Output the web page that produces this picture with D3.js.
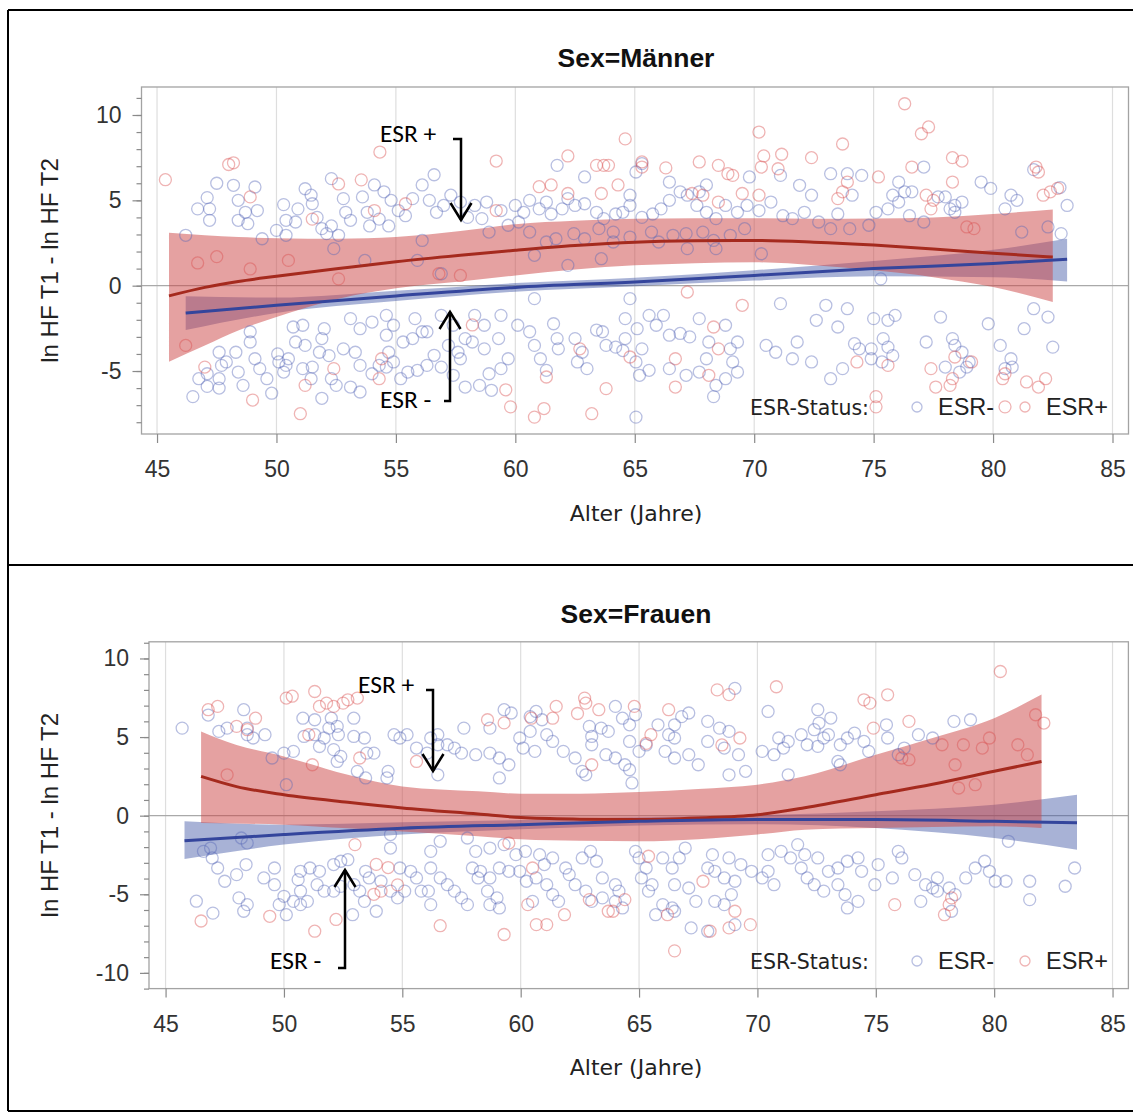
<!DOCTYPE html>
<html>
<head>
<meta charset="utf-8">
<script src="https://cdn.jsdelivr.net/npm/d3@7"></script>
<style>
  body { margin: 0; background: #fff; }
  svg { display: block; }
</style>
</head>
<body>
<svg id="chart" width="1133" height="1113"></svg>
<script>
// ---------------------------------------------------------------
// Data: age (years) vs. ln HF T1 - ln HF T2, by ESR status and sex
// ---------------------------------------------------------------
const xTickValues = [45, 50, 55, 60, 65, 70, 75, 80, 85];
const legendLabels = ["ESR-", "ESR+"];
const panelTitles = ["Sex=Männer", "Sex=Frauen"];

// Men: fitted curve with confidence band, ESR- group
const menNegAge = [46.2, 50, 55, 60, 65, 70, 75, 80, 83.1];
const menNegFit = [-1.6, -1.15, -0.6, -0.1, 0.22, 0.6, 1.0, 1.3, 1.55];
const menNegLo  = [-2.6, -1.6, -0.9, -0.35, -0.03, 0.3, 0.55, 0.5, 0.25];
const menNegHi  = [-0.62, -0.7, -0.3, 0.15, 0.47, 0.9, 1.45, 2.1, 2.75];

// Men: fitted curve with confidence band, ESR+ group
const menPosAge = [45.5, 47, 48.4, 50, 52.6, 55, 57.7, 60, 62.5, 65, 67.5, 70, 72.5, 75, 77.5, 80, 82.5];
const menPosFit = [-0.6, -0.1, 0.25, 0.55, 1.0, 1.4, 1.78, 2.07, 2.35, 2.55, 2.63, 2.65, 2.55, 2.38, 2.15, 1.9, 1.68];
const menPosLo  = [-4.45, -3.5, -2.62, -1.84, -0.76, -0.15, 0.25, 0.6, 0.95, 1.19, 1.32, 1.37, 1.2, 0.9, 0.5, -0.08, -0.96];
const menPosHi  = [3.1, 2.95, 2.85, 2.78, 2.75, 2.85, 3.2, 3.6, 3.8, 3.92, 3.95, 3.95, 3.92, 3.93, 4.0, 4.2, 4.47];

// Women: fitted curve with confidence band, ESR- group
const womenNegAge = [45.8, 50, 55, 60, 65, 70, 75, 80, 83.5];
const womenNegFit = [-1.6, -1.2, -0.8, -0.57, -0.36, -0.25, -0.25, -0.36, -0.45];
const womenNegLo  = [-2.75, -1.84, -1.2, -0.87, -0.62, -0.55, -0.78, -1.42, -2.16];
const womenNegHi  = [-0.36, -0.57, -0.42, -0.27, -0.1, 0.03, 0.28, 0.7, 1.33];

// Women: fitted curve with confidence band, ESR+ group
const womenPosAge = [46.5, 48, 50, 52.7, 55, 58.2, 60, 62.5, 65, 67.5, 70, 72, 75, 77.4, 80, 82];
const womenPosFit = [2.5, 1.85, 1.33, 0.85, 0.49, 0.1, -0.12, -0.22, -0.25, -0.15, 0.06, 0.5, 1.33, 2.0, 2.82, 3.45];
const womenPosLo  = [-0.47, -0.5, -0.57, -0.8, -1.0, -1.31, -1.5, -1.6, -1.63, -1.5, -1.2, -0.89, -0.78, -0.72, -0.68, -0.78];
const womenPosHi  = [5.36, 4.5, 3.77, 2.6, 1.86, 1.55, 1.4, 1.4, 1.5, 1.7, 1.97, 2.5, 3.88, 4.94, 6.2, 7.7];

// Observations [age, difference]: men, ESR-
const menNeg = [
  [47.5,6.0],[47.1,5.16],[46.7,4.5],[47.2,4.5],[47.2,3.83],[48.2,5.88],[49.1,5.78],[48.4,5.0],[48.7,4.3],[49.2,4.4],
  [48.4,3.83],[48.8,3.63],[50.3,4.75],[50.4,3.83],[50.0,3.24],[50.9,4.5],[50.8,3.73],[51.2,5.68],[51.45,5.3],[51.5,4.8],
  [51.7,4.0],[51.9,3.34],[52.1,3.05],[52.3,6.27],[52.8,5.1],[52.9,4.3],[53.1,3.83],[52.3,3.5],[52.6,2.95],[53.6,5.2],
  [53.8,4.3],[53.9,3.5],[54.1,5.9],[54.5,5.5],[54.8,5.0],[55.1,4.4],[54.3,3.9],[54.7,3.5],[55.4,4.1],[55.7,5.1],
  [56.1,5.9],[56.6,6.5],[56.4,5.0],[56.7,4.3],[57.0,4.7],[57.3,5.3],[57.7,4.9],[58.0,4.0],[56.1,2.65],[46.2,2.95],
  [49.4,2.75],[50.4,2.95],[52.4,2.17],[53.7,1.48],[55.9,1.48],[56.9,0.7],
  [46.5,-6.5],[46.75,-5.45],[47.1,-5.16],[47.6,-5.45],[47.6,-6.0],[47.1,-5.9],[47.9,-4.47],[48.3,-3.9],[48.4,-5.06],[48.6,-5.84],
  [48.9,-2.7],[48.9,-3.3],[49.1,-4.28],[49.3,-4.86],[49.6,-5.45],[49.8,-6.3],[50.05,-4.0],[50.1,-4.47],[50.3,-5.06],[50.4,-4.67],
  [50.5,-4.28],[50.7,-2.42],[51.1,-2.32],[50.8,-3.3],[51.2,-3.5],[51.1,-4.86],[51.5,-4.77],[51.45,-5.45],[51.9,-3.1],[52.0,-2.52],
  [51.8,-3.9],[52.2,-4.1],[52.3,-5.45],[52.5,-5.84],[51.9,-6.6],[53.1,-1.93],[53.5,-2.52],[54.0,-2.13],[52.8,-3.7],[53.3,-3.9],
  [53.5,-4.67],[54.0,-5.16],[54.3,-4.67],[53.1,-5.94],[53.5,-6.23],[54.6,-1.74],[54.9,-2.32],[54.6,-2.9],[54.7,-3.9],[54.9,-4.47],
  [54.6,-4.77],[55.3,-3.3],[55.7,-3.1],[56.1,-2.7],[55.2,-5.45],[55.5,-5.06],[55.9,-4.96],[56.3,-4.67],[56.6,-4.08],[55.8,-1.93],
  [56.3,-2.7],[56.9,-1.74],[57.4,-2.32],[57.2,-3.5],[57.6,-3.9],[57.9,-3.1],[56.9,-4.77],[57.4,-5.25],[57.9,-5.94],[57.7,-4.28],
  [47.6,-3.9],[47.7,-4.67],
  [61.75,7.05],[62.9,6.37],[65.3,7.15],[65.05,6.66],[66.45,6.07],[67.7,5.5],[68.0,5.9],[69.8,6.37],[71.1,6.46],[58.3,4.7],
  [58.8,4.9],[58.6,3.93],[59.4,4.4],[60.0,4.7],[60.35,4.3],[60.14,3.73],[60.6,5.0],[61.0,4.5],[61.3,4.9],[61.5,4.2],
  [61.96,4.5],[62.2,5.1],[62.5,4.7],[62.9,4.8],[63.4,4.3],[63.7,3.93],[64.2,4.2],[64.5,4.3],[64.8,5.3],[64.8,4.7],
  [65.3,4.0],[65.75,4.2],[66.1,4.5],[66.45,5.0],[66.9,5.5],[67.2,5.3],[67.6,4.7],[68.0,4.3],[68.4,3.93],[68.8,4.7],
  [69.3,4.3],[69.7,4.7],[70.2,4.4],[70.7,4.9],[71.2,4.1],[71.6,3.93],[58.9,3.14],[59.7,3.54],[60.6,3.14],[61.3,2.56],
  [61.7,2.75],[62.45,3.05],[62.9,2.75],[63.5,3.34],[64.1,3.14],[64.8,2.85],[65.7,3.14],[66.0,2.56],[66.6,2.95],[67.15,3.05],
  [67.85,3.14],[68.3,2.65],[69.0,2.95],[69.6,3.34],[70.3,1.87],[60.8,1.78],[62.2,1.19],[63.6,1.58],[64.1,2.56],[67.2,2.17],
  [68.4,2.17],
  [58.3,-1.74],[58.7,-2.32],[59.4,-1.74],[60.8,-0.76],[58.2,-3.3],[58.7,-3.7],[59.3,-3.1],[59.7,-4.28],[58.9,-5.16],[59.4,-4.86],
  [58.5,-5.84],[59.0,-6.13],[60.1,-2.32],[60.6,-2.7],[60.8,-3.5],[61.05,-4.28],[61.3,-4.96],[61.6,-2.23],[61.75,-3.1],[61.8,-3.7],
  [62.5,-3.1],[62.8,-3.9],[62.6,-4.47],[63.0,-4.86],[63.4,-2.6],[63.65,-2.7],[63.8,-3.5],[64.2,-3.6],[64.5,-3.8],[64.6,-3.1],
  [64.8,-0.76],[64.6,-1.93],[65.1,-2.52],[65.6,-1.74],[65.9,-2.32],[66.2,-1.74],[65.3,-3.7],[65.05,-4.47],[65.6,-4.96],[65.2,-5.25],
  [66.45,-2.9],[66.9,-2.8],[67.3,-3.0],[67.7,-1.93],[68.1,-3.3],[68.8,-2.32],[69.3,-3.3],[69.0,-3.7],[66.45,-4.86],[67.15,-5.25],
  [67.7,-5.06],[68.0,-4.28],[68.4,-5.84],[68.8,-5.45],[69.3,-5.06],[69.1,-4.47],[68.3,-6.5],[65.05,-7.7],[70.5,-3.5],[70.9,-3.9],
  [71.6,-4.28],[71.1,-1.05],
  [73.2,6.56],[73.9,6.56],[74.5,6.46],[71.9,5.88],[72.4,5.3],[74.1,5.3],[76.05,6.07],[76.3,5.5],[76.6,5.5],[75.8,5.3],
  [76.05,4.9],[77.1,6.95],[78.2,4.5],[78.4,4.7],[78.7,4.9],[78.4,4.3],[78.0,5.2],[77.7,5.2],[79.5,6.07],[79.9,5.7],
  [80.75,5.3],[81.0,5.0],[80.5,4.5],[83.1,4.7],[82.85,3.05],[72.1,4.3],[72.7,3.73],[73.5,4.2],[75.1,4.3],[75.6,4.5],
  [76.5,4.1],[77.1,3.73],[73.2,3.34],[74.0,3.34],[74.8,3.54],[81.2,3.14],[82.3,3.44],[75.3,0.4],[81.7,6.8],[82.8,5.75],
  [73.0,-1.15],[73.9,-1.35],[72.6,-2.03],[73.5,-2.42],[71.8,-3.3],[72.4,-4.47],[73.2,-5.45],[73.7,-4.86],[74.2,-3.4],[74.4,-3.7],
  [74.9,-3.7],[75.0,-1.93],[75.6,-2.03],[75.9,-1.74],[75.4,-3.1],[75.6,-3.6],[75.8,-4.1],[74.9,-4.28],[75.35,-4.47],[77.2,-3.3],
  [77.8,-1.84],[78.3,-3.1],[78.4,-3.5],[78.7,-3.9],[79.0,-4.47],[78.0,-4.77],[78.6,-5.06],[78.9,-4.77],[79.8,-2.23],[80.3,-3.5],
  [80.5,-4.86],[80.8,-4.77],[80.75,-4.28],[81.3,-2.52],[81.7,-1.35],[82.3,-1.84],[82.5,-3.6]
];

// Observations [age, difference]: men, ESR+
const menPos = [
  [45.35,6.21],[48.0,7.1],[48.2,7.2],[54.33,7.83],[48.9,5.2],[52.6,5.96],[53.55,6.2],[54.1,4.4],[55.4,4.8],[51.5,3.9],
  [46.7,1.33],[47.5,1.7],[48.9,0.98],[50.5,1.48],[52.6,0.4],[46.2,-3.5],[47.0,-4.77],[49.0,-6.7],[51.0,-7.5],[51.2,-5.84],
  [52.4,-4.86],[54.3,-5.45],[54.4,-4.28],[56.8,0.7],[57.7,0.6],[58.2,-2.3],
  [59.2,7.3],[62.2,7.6],[64.6,8.6],[63.4,7.05],[63.7,7.05],[63.9,7.05],[61.0,5.8],[61.5,5.9],[62.2,5.4],[63.6,5.4],
  [64.3,5.9],[65.3,7.25],[65.3,6.95],[66.3,6.9],[67.7,7.25],[68.5,7.05],[68.9,6.56],[69.1,6.46],[70.2,9.0],[70.4,7.6],
  [71.15,7.7],[70.3,6.95],[71.0,6.85],[67.4,5.4],[67.85,5.3],[68.5,4.9],[69.5,5.4],[70.2,5.3],[59.2,4.4],[67.2,-0.37],
  [69.5,-1.15],[68.3,-2.42],[62.7,-3.7],[64.8,-4.18],[66.7,-4.28],[68.5,-3.7],[61.3,-5.35],[68.1,-5.25],[66.7,-5.94],[63.8,-6.03],
  [59.8,-7.1],[59.6,-6.1],[60.8,-7.7],[61.2,-7.2],[63.2,-7.5],
  [76.3,10.66],[77.0,8.9],[77.3,9.3],[73.7,8.3],[72.4,7.5],[78.3,7.5],[78.7,7.3],[76.6,6.95],[75.2,6.37],[81.8,6.95],
  [81.9,6.66],[78.3,6.07],[73.5,5.1],[73.7,5.5],[73.9,6.07],[77.2,5.3],[77.5,5.0],[77.4,4.5],[82.1,5.3],[82.4,5.5],
  [82.7,5.7],[78.9,3.44],[79.2,3.34],[74.3,-4.47],[75.6,-4.67],[75.1,-6.5],[75.1,-7.1],[77.4,-4.86],[77.6,-5.94],[78.2,-5.84],
  [78.3,-5.45],[79.1,-4.47],[78.4,-4.18],[80.4,-5.45],[80.5,-5.16],[81.4,-5.64],[81.9,-5.94],[82.2,-5.45],[80.5,-7.1]
];

// Observations [age, difference]: women, ESR-
const womenNeg = [
  [45.7,5.57],[46.8,6.4],[47.25,5.36],[47.6,5.57],[48.3,6.74],[48.45,5.57],[49.2,5.15],[48.45,5.15],[48.7,4.94],[50.0,3.98],
  [50.4,4.09],[49.5,3.67],[50.8,6.2],[51.3,6.1],[50.85,5.04],[51.3,5.15],[51.7,4.94],[51.5,4.4],[52.0,6.2],[51.9,5.57],
  [52.25,5.68],[52.3,5.15],[52.1,4.2],[52.4,3.77],[52.25,3.45],[52.95,6.2],[52.95,5.04],[53.4,4.94],[53.5,3.98],[53.1,2.82],
  [53.45,2.4],[54.4,2.82],[54.35,2.4],[54.65,5.15],[54.9,4.94],[55.2,5.15],[55.6,4.3],[56.05,3.98],[56.5,4.51],[56.9,4.51],
  [57.2,4.3],[57.5,3.98],[57.6,5.57],[56.5,5.15],[56.2,4.94],[56.5,2.6],[53.8,3.98],[50.1,1.97],
  [46.3,-5.44],[47.0,-6.2],[46.6,-2.27],[46.97,-2.69],[47.2,-3.33],[47.5,-4.17],[48.0,-3.75],[48.4,-3.11],[48.1,-5.23],[48.45,-5.66],
  [48.3,-6.08],[49.15,-3.96],[49.6,-3.33],[49.6,-4.39],[50.0,-5.13],[49.8,-5.66],[50.1,-6.3],[50.6,-4.07],[50.7,-3.54],[50.7,-4.8],
  [50.4,-5.45],[50.7,-5.66],[50.99,-5.45],[51.1,-3.33],[51.5,-3.54],[51.4,-4.39],[51.7,-4.8],[52.1,-4.8],[52.4,-4.5],[52.1,-3.11],
  [52.4,-2.9],[52.7,-2.8],[52.96,-4.39],[53.2,-4.8],[53.4,-5.45],[53.45,-3.54],[53.6,-3.96],[54.1,-4.17],[54.5,-4.8],[54.8,-5.23],
  [55.1,-4.8],[54.9,-3.33],[55.35,-3.54],[54.5,-2.06],[54.5,-1.2],[55.6,-3.96],[55.8,-4.8],[56.1,-4.8],[56.2,-5.66],[56.2,-3.33],
  [56.6,-3.96],[56.9,-4.39],[57.2,-4.8],[57.5,-5.23],[57.75,-5.66],[56.6,-1.63],[57.75,-1.42],[56.2,-2.27],[57.96,-3.33],[58.2,-3.96],
  [53.9,-6.08],[52.9,-6.3],[48.2,-1.42],[48.45,-1.74],[46.9,-2.06],
  [59.3,6.74],[59.6,6.53],[60.4,6.3],[60.65,6.63],[60.9,6.1],[58.7,5.57],[58.1,3.88],[58.7,3.98],[59.1,3.67],[59.5,3.24],
  [59.1,2.4],[59.96,4.94],[60.1,4.3],[60.6,4.09],[60.4,5.36],[61.1,5.15],[61.35,4.72],[61.8,4.09],[62.3,3.67],[62.6,2.82],
  [62.75,2.6],[62.9,5.68],[63.0,5.04],[63.0,4.51],[63.4,5.57],[63.7,5.36],[64.0,6.95],[64.3,6.2],[64.6,5.78],[64.85,6.42],
  [63.6,3.88],[64.0,3.67],[64.4,3.24],[64.6,4.72],[65.0,4.09],[65.3,4.5],[64.7,2.08],[64.6,2.92],[65.8,5.78],[66.25,5.15],
  [66.5,5.78],[66.8,6.3],[67.1,6.53],[66.5,4.94],[66.1,4.09],[66.5,3.67],[67.1,3.88],[67.5,3.24],[67.9,6.0],[68.4,5.57],
  [68.8,5.36],[69.05,8.1],[67.9,4.72],[68.6,4.3],[69.2,3.88],[68.8,2.6],[69.5,2.82],[70.2,4.09],[70.7,3.88],[71.1,4.3],
  [70.9,4.94],[71.3,4.72],[70.45,6.63],[71.3,2.6],
  [58.1,-2.27],[58.7,-2.06],[59.3,-1.84],[59.8,-2.48],[58.3,-3.54],[58.7,-3.96],[59.1,-3.33],[59.5,-3.54],[58.6,-4.8],[59.0,-5.23],
  [58.7,-5.66],[59.1,-5.87],[59.96,-3.54],[60.24,-4.17],[60.65,-3.96],[60.2,-2.27],[60.8,-2.48],[61.0,-3.11],[61.35,-2.69],[61.1,-4.39],
  [61.35,-5.02],[61.6,-5.45],[61.9,-3.33],[62.05,-3.75],[62.3,-4.39],[62.6,-2.69],[62.95,-2.27],[63.2,-2.9],[62.75,-4.8],[63.0,-5.45],
  [63.45,-3.96],[64.0,-4.39],[64.15,-4.8],[63.45,-5.23],[64.0,-5.45],[64.3,-5.87],[64.85,-2.27],[65.0,-2.69],[65.3,-3.33],[65.1,-3.96],
  [65.55,-4.39],[65.4,-4.8],[66.0,-2.69],[66.4,-3.33],[66.7,-2.69],[66.95,-2.06],[66.5,-4.39],[67.1,-4.6],[67.4,-5.45],[66.0,-5.66],
  [66.4,-5.87],[67.9,-3.33],[68.2,-3.54],[68.6,-3.96],[69.05,-4.17],[68.1,-2.48],[68.8,-2.69],[69.3,-3.11],[68.2,-5.45],[68.6,-5.66],
  [68.9,-5.02],[69.75,-3.54],[70.2,-3.96],[70.45,-3.54],[70.7,-4.39],[70.45,-2.48],[71.0,-2.27],[71.4,-2.69],[67.2,-7.14],[67.9,-7.35],
  [65.7,-6.3],[66.5,-6.08],[60.5,-5.45],[69.05,-6.93],
  [72.55,6.74],[73.1,6.21],[72.6,5.89],[72.4,5.47],[72.8,4.94],[73.0,5.15],[72.55,4.41],[73.5,4.51],[73.8,4.94],[74.1,5.25],
  [74.5,4.72],[74.7,4.09],[75.45,5.78],[75.5,4.94],[73.4,3.45],[73.5,3.24],[76.8,5.15],[77.4,4.94],[78.3,6.0],[79.0,6.1],
  [75.95,3.88],[76.2,4.3],[71.85,5.15],[72.1,4.51],
  [71.7,-1.84],[72.0,-2.48],[72.55,-2.69],[73.0,-3.54],[71.85,-3.33],[72.1,-3.96],[72.4,-4.39],[72.8,-4.8],[73.4,-3.33],[73.8,-2.9],
  [74.25,-2.69],[74.4,-3.54],[73.4,-4.39],[73.7,-5.02],[73.8,-5.87],[74.25,-5.45],[74.96,-4.39],[75.1,-3.11],[75.7,-3.96],[75.95,-2.27],
  [76.1,-2.69],[76.65,-3.75],[77.1,-4.39],[77.4,-4.6],[77.6,-3.96],[76.9,-5.45],[77.6,-4.8],[78.1,-4.6],[78.35,-5.02],[78.8,-3.96],
  [79.2,-3.33],[79.6,-2.9],[79.8,-3.54],[80.05,-4.17],[80.5,-4.17],[80.6,-1.63],[81.5,-4.17],[81.5,-5.34],[83.0,-4.49],[83.4,-3.33],
  [78.2,-6.08]
];

// Observations [age, difference]: women, ESR+
const womenPos = [
  [46.8,6.74],[47.2,6.95],[50.1,7.48],[50.35,7.6],[51.3,7.9],[51.5,6.95],[51.8,7.16],[52.1,6.95],[52.5,7.16],[52.7,7.37],
  [53.1,7.48],[48.0,5.68],[48.8,6.2],[48.45,5.47],[51.05,5.15],[53.2,3.67],[51.2,3.24],[55.6,3.45],[47.6,2.6],[46.5,-6.7],
  [49.4,-6.4],[51.3,-7.35],[52.2,-6.6],[53.0,-1.84],[53.9,-3.1],[54.4,-3.3],[53.8,-5.0],[54.1,-4.8],[54.8,-4.4],[56.6,-7.0],
  [58.6,6.1],[59.3,5.9],[60.45,6.2],[61.35,6.2],[61.5,6.95],[62.4,6.5],[62.7,7.48],[62.75,7.16],[63.3,6.74],[64.8,6.95],
  [66.25,6.74],[68.3,8.0],[68.8,7.7],[70.8,8.2],[63.0,3.24],[65.3,4.6],[65.5,5.15],[68.5,4.5],[69.26,4.94],[59.5,-1.74],
  [60.5,-3.33],[59.3,-7.56],[60.66,-6.93],[61.1,-6.93],[60.3,-5.66],[61.85,-6.3],[62.9,-5.34],[63.7,-6.08],[63.9,-6.08],[65.4,-2.58],
  [66.2,-6.3],[66.5,-8.6],[68.0,-7.35],[68.8,-7.14],[69.7,-6.93],[69.05,-6.08],[67.7,-4.17],[64.4,-5.34],
  [74.5,7.37],[74.75,7.16],[75.5,7.69],[76.4,6.0],[74.9,5.57],[80.26,9.17],[81.75,6.42],[82.1,5.89],[77.8,4.51],[78.7,4.51],
  [79.5,4.3],[79.8,4.94],[78.35,3.24],[78.5,1.76],[79.2,1.97],[81.0,4.51],[81.4,3.88],[76.1,3.67],[76.4,3.56],[75.8,-5.66],
  [78.1,-5.66],[78.2,-5.23],[77.9,-6.3]
];

// ---------------------------------------------------------------
// Layout of the two stacked panels
// ---------------------------------------------------------------
const panels = [
  {
    title: panelTitles[0],
    left: 141.5, right: 1128.5, top: 87, bottom: 434,
    xDomain: [44.35, 85.67], yDomain: [-8.69, 11.64],
    yMajor: [-5, 0, 5, 10], yMinor: d3.range(-8, 12),
    titleY: 67, axisTitleY: 521, yTitleX: 58,
    legendY: 415,
    neg: menNeg, pos: menPos,
    negBand: { age: menNegAge, fit: menNegFit, lo: menNegLo, hi: menNegHi },
    posBand: { age: menPosAge, fit: menPosFit, lo: menPosLo, hi: menPosHi },
    notePlus:  { tx: 380, ty: 142, hx0: 453, hy: 139, ax: 461, tip: 220, dir: 1 },
    noteMinus: { tx: 380, ty: 408, hx0: 444, hy: 401, ax: 450, tip: 312, dir: -1 }
  },
  {
    title: panelTitles[1],
    left: 149, right: 1128.4, top: 641.8, bottom: 988.6,
    xDomain: [44.30, 85.67], yDomain: [-11.0, 11.06],
    yMajor: [-10, -5, 0, 5, 10], yMinor: d3.range(-11, 12),
    titleY: 623, axisTitleY: 1075, yTitleX: 58,
    legendY: 969,
    neg: womenNeg, pos: womenPos,
    negBand: { age: womenNegAge, fit: womenNegFit, lo: womenNegLo, hi: womenNegHi },
    posBand: { age: womenPosAge, fit: womenPosFit, lo: womenPosLo, hi: womenPosHi },
    notePlus:  { tx: 358, ty: 693, hx0: 426, hy: 690, ax: 433, tip: 771, dir: 1 },
    noteMinus: { tx: 270, ty: 969, hx0: 338, hy: 968, ax: 345, tip: 870, dir: -1 }
  }
];

const COLORS = {
  negBand: "#3f55a5", posBand: "#cc4444",
  negLine: "#34459c", posLine: "#a52a1e",
  negMark: "#5566b8", posMark: "#d84c4c"
};
const SANS = "'Liberation Sans', Arial, sans-serif";

const svg = d3.select("#chart");

// Outer frame around the two panels
const frame = svg.append("g").attr("stroke", "#000").attr("stroke-width", 2).attr("fill", "none");
frame.append("line").attr("x1", 8).attr("x2", 1133).attr("y1", 10).attr("y2", 10);
frame.append("line").attr("x1", 8).attr("x2", 1133).attr("y1", 565).attr("y2", 565);
frame.append("line").attr("x1", 8).attr("x2", 1133).attr("y1", 1111).attr("y2", 1111);
frame.append("line").attr("x1", 8).attr("x2", 8).attr("y1", 10).attr("y2", 1111);

function bandRows(b) {
  return b.age.map((a, i) => ({ age: a, fit: b.fit[i], lo: b.lo[i], hi: b.hi[i] }));
}

function drawPanel(p, idx) {
  const x = d3.scaleLinear().domain(p.xDomain).range([p.left, p.right]);
  const y = d3.scaleLinear().domain(p.yDomain).range([p.bottom, p.top]);
  const g = svg.append("g");

  const clipId = "clip" + idx;
  g.append("clipPath").attr("id", clipId).append("rect")
    .attr("x", p.left).attr("y", p.top)
    .attr("width", p.right - p.left).attr("height", p.bottom - p.top);

  const plot = g.append("g").attr("clip-path", `url(#${clipId})`);

  // vertical grid
  plot.selectAll("line.grid").data(xTickValues).join("line")
    .attr("x1", d => x(d)).attr("x2", d => x(d))
    .attr("y1", p.top).attr("y2", p.bottom)
    .attr("stroke", "#dedede").attr("stroke-width", 1.2);

  // reference line at zero
  plot.append("line")
    .attr("x1", p.left).attr("x2", p.right)
    .attr("y1", y(0)).attr("y2", y(0))
    .attr("stroke", "#a9a9a9").attr("stroke-width", 1.2);

  const area = d3.area().curve(d3.curveMonotoneX)
    .x(d => x(d.age)).y0(d => y(d.lo)).y1(d => y(d.hi));
  const line = d3.line().curve(d3.curveMonotoneX)
    .x(d => x(d.age)).y(d => y(d.fit));

  const negRows = bandRows(p.negBand);
  const posRows = bandRows(p.posBand);

  // confidence bands
  plot.append("path").datum(negRows).attr("d", area)
    .attr("fill", COLORS.negBand).attr("fill-opacity", 0.45);
  plot.append("path").datum(posRows).attr("d", area)
    .attr("fill", COLORS.posBand).attr("fill-opacity", 0.5);

  // observations
  plot.append("g").selectAll("circle").data(p.neg).join("circle")
    .attr("cx", d => x(d[0])).attr("cy", d => y(d[1])).attr("r", 6)
    .attr("fill", "none").attr("stroke", COLORS.negMark)
    .attr("stroke-opacity", 0.42).attr("stroke-width", 1.3);
  plot.append("g").selectAll("circle").data(p.pos).join("circle")
    .attr("cx", d => x(d[0])).attr("cy", d => y(d[1])).attr("r", 6)
    .attr("fill", "none").attr("stroke", COLORS.posMark)
    .attr("stroke-opacity", 0.42).attr("stroke-width", 1.3);

  // fitted curves
  plot.append("path").datum(posRows).attr("d", line)
    .attr("fill", "none").attr("stroke", COLORS.posLine).attr("stroke-width", 3);
  plot.append("path").datum(negRows).attr("d", line)
    .attr("fill", "none").attr("stroke", COLORS.negLine).attr("stroke-width", 3);

  // plot frame
  g.append("rect")
    .attr("x", p.left).attr("y", p.top)
    .attr("width", p.right - p.left).attr("height", p.bottom - p.top)
    .attr("fill", "none").attr("stroke", "#a3a3a3").attr("stroke-width", 1.3);

  // axes
  const fmt = d => String(d);
  const styleAxis = sel => {
    sel.select(".domain").remove();
    sel.selectAll(".tick line").attr("stroke", "#8a8a8a").attr("stroke-width", 1.2);
    sel.selectAll("text").attr("font-family", SANS).attr("font-size", 23).attr("fill", "#333");
  };
  g.append("g").attr("transform", `translate(${p.left},0)`)
    .call(d3.axisLeft(y).tickValues(p.yMinor).tickSize(5).tickFormat(""))
    .call(styleAxis);
  g.append("g").attr("transform", `translate(${p.left},0)`)
    .call(d3.axisLeft(y).tickValues(p.yMajor).tickSize(9).tickPadding(11).tickFormat(fmt))
    .call(styleAxis);
  g.append("g").attr("transform", `translate(0,${p.bottom})`)
    .call(d3.axisBottom(x).tickValues(xTickValues).tickSize(9).tickPadding(18).tickFormat(fmt))
    .call(styleAxis);

  // titles
  g.append("text").attr("x", 636).attr("y", p.titleY)
    .attr("text-anchor", "middle").attr("font-family", SANS)
    .attr("font-weight", "bold").attr("font-size", 26.5).attr("fill", "#111")
    .text(p.title);
  g.append("text").attr("x", 636).attr("y", p.axisTitleY)
    .attr("text-anchor", "middle").attr("font-family", "'DejaVu Sans', sans-serif")
    .attr("font-size", 22).attr("fill", "#222")
    .text("Alter (Jahre)");
  g.append("text")
    .attr("transform", `translate(${p.yTitleX},${(p.top + p.bottom) / 2}) rotate(-90)`)
    .attr("text-anchor", "middle").attr("font-family", SANS)
    .attr("font-size", 24).attr("fill", "#222")
    .text("ln HF T1 - ln HF T2");

  // legend
  const lg = g.append("g");
  lg.append("text").attr("x", 750).attr("y", p.legendY)
    .attr("font-family", "'DejaVu Sans', sans-serif").attr("font-size", 20.5).attr("fill", "#222")
    .text("ESR-Status:");
  const legendItems = [
    { label: legendLabels[0], color: COLORS.negMark, cx: 917, tx: 938, op: 0.42 },
    { label: legendLabels[1], color: COLORS.posMark, cx: 1025, tx: 1046, op: 0.42 }
  ];
  legendItems.forEach(it => {
    lg.append("circle").attr("cx", it.cx).attr("cy", p.legendY - 8).attr("r", 5)
      .attr("fill", "none").attr("stroke", it.color)
      .attr("stroke-opacity", it.op).attr("stroke-width", 1.3);
    lg.append("text").attr("x", it.tx).attr("y", p.legendY)
      .attr("font-family", SANS).attr("font-size", 23.5).attr("fill", "#222")
      .text(it.label);
  });

  // "ESR +" / "ESR -" call-outs with arrows
  const notes = [
    { n: p.notePlus, label: "ESR +" },
    { n: p.noteMinus, label: "ESR -" }
  ];
  notes.forEach(({ n, label }) => {
    const ng = g.append("g");
    ng.append("text").attr("x", n.tx).attr("y", n.ty)
      .attr("font-family", "Carlito, Calibri, 'Open Sans', sans-serif")
      .attr("font-size", 25.5).attr("fill", "#000").text(label);
    const wing = 17 * n.dir;
    ng.append("path")
      .attr("d", `M${n.hx0},${n.hy}H${n.ax}V${n.tip}`)
      .attr("fill", "none").attr("stroke", "#000").attr("stroke-width", 2.5);
    ng.append("path")
      .attr("d", `M${n.ax - 10.5},${n.tip - wing}L${n.ax},${n.tip}L${n.ax + 10.5},${n.tip - wing}`)
      .attr("fill", "none").attr("stroke", "#000").attr("stroke-width", 2.5);
  });
}

panels.forEach(drawPanel);
</script>
</body>
</html>
